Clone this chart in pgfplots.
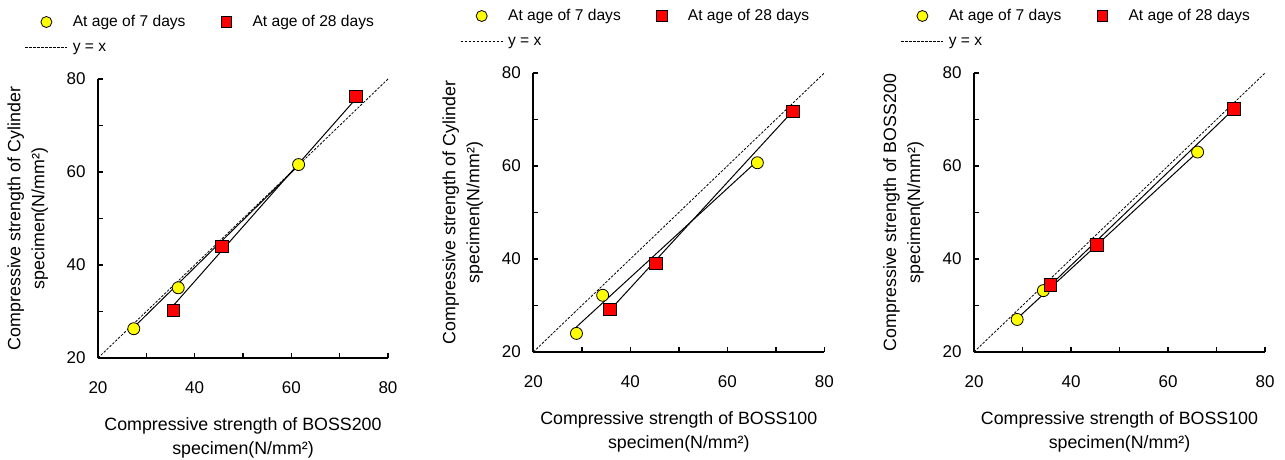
\documentclass[border=0pt]{standalone}
\usepackage{fontspec}
\setmainfont{Liberation Sans}
\usepackage{pgfplots}
\pgfplotsset{compat=1.18}

\definecolor{ptyellow}{RGB}{255,255,0}
\definecolor{ptred}{RGB}{255,0,0}

\pgfplotsset{
  panel/.style={
    scale only axis, width=291pt, height=279pt, anchor=south west,
    xmin=20, xmax=80, ymin=20, ymax=80, clip=false,
    axis x line*=bottom, axis y line*=left,
    axis line style={line width=2pt,-},
    xtick={20,40,60,80}, ytick={20,40,60,80},
    minor xtick={30,50,70}, minor ytick={30,50,70},
    tick align=inside, major tick length=5pt, minor tick length=5pt,
    every tick/.style={black,line width=1.5pt},
    minor tick style={black,line width=1.5pt},
    tick label style={font=\fontsize{17}{17}\selectfont},
    /pgf/number format/assume math mode=true,
    xticklabel style={yshift=-20pt},
    yticklabel style={xshift=-9pt},
    label style={font=\fontsize{17.8}{24}\selectfont, align=center},
    xlabel style={at={(axis description cs:0.5,-0.287)}, anchor=center},
    ylabel style={at={(axis description cs:-0.242,0.5)}, anchor=center},
    legend columns=2, legend cell align=left,
    legend style={at={(0,1)}, anchor=north west, xshift=-73pt, yshift=69pt,
      draw=none, fill=none, inner sep=0pt, outer sep=0pt,
      column sep=0pt, row sep=1pt, font=\fontsize{15.6}{16}\selectfont,
      nodes={inner sep=5pt, text height=11pt, text depth=3pt},
      /tikz/every even column/.append style={column sep=15pt}},
  },
  mk7/.style={only marks, mark=*, mark size=6pt,
    mark options={fill=ptyellow, draw=black, line width=0.8pt}},
  mk28/.style={only marks, mark=square*, mark size=6.2pt,
    mark options={fill=ptred, draw=black, line width=0.8pt}},
  trend/.style={black, line width=1pt, no marks},
  eqline/.style={black, line width=0.8pt, dash pattern=on 2.5pt off 1.5pt, no marks},
}

\newcommand{\panellegend}{%
  \addlegendimage{legend image code/.code={%
    \draw[black,line width=0.8pt,fill=ptyellow] (21pt,0pt) circle (5.5pt);
    \path[draw=none,fill=none] (0pt,0pt) -- (42pt,0pt);}}
  \addlegendentry{At age of 7 days}
  \addlegendimage{legend image code/.code={%
    \draw[black,line width=0.8pt,fill=ptred] (15.8pt,-5.2pt) rectangle (26.2pt,5.2pt);
    \path[draw=none,fill=none] (0pt,0pt) -- (42pt,0pt);}}
  \addlegendentry{At age of 28 days}
  \addlegendimage{legend image code/.code={%
    \draw[black,line width=0.8pt,dash pattern=on 2.5pt off 1.5pt] (0pt,0pt) -- (42pt,0pt);}}
  \addlegendentry{y = x}
}

\begin{document}
\begin{tikzpicture}
% panel 1: Cylinder vs BOSS200
\begin{axis}[panel, at={(98pt,101pt)}, width=290pt,
  xlabel={Compressive strength of BOSS200\\specimen(N/mm²)},
  ylabel={Compressive strength of Cylinder\\specimen(N/mm²)}]
\panellegend
\addplot[mk7, forget plot] coordinates {(27.4,26.3) (36.6,35.1) (61.5,61.6)};
\addplot[mk28, forget plot] coordinates {(35.6,30.3) (45.6,44.0) (73.4,76.2)};
\addplot[eqline, forget plot] coordinates {(20,20) (80,80)};
\addplot[trend, forget plot] coordinates {(27.4,26.6) (61.5,61.4)};
\addplot[trend, forget plot] coordinates {(35.6,31.3) (73.4,75.8)};
\end{axis}
% panel 2: Cylinder vs BOSS100
\begin{axis}[panel, at={(533.3pt,107pt)},
  xlabel={Compressive strength of BOSS100\\specimen(N/mm²)},
  ylabel={Compressive strength of Cylinder\\specimen(N/mm²)}]
\panellegend
\addplot[mk7, forget plot] coordinates {(28.9,24.0) (34.3,32.2) (66.2,60.7)};
\addplot[mk28, forget plot] coordinates {(35.8,29.2) (45.3,39.0) (73.5,71.8)};
\addplot[eqline, forget plot] coordinates {(20,20) (80,80)};
\addplot[trend, forget plot] coordinates {(28.9,25.4) (66.2,61.1)};
\addplot[trend, forget plot] coordinates {(35.8,29.0) (73.5,71.8)};
\end{axis}
% panel 3: BOSS200 vs BOSS100
\begin{axis}[panel, at={(974pt,107pt)},
  xlabel={Compressive strength of BOSS100\\specimen(N/mm²)},
  ylabel={Compressive strength of BOSS200\\specimen(N/mm²)}]
\panellegend
\addplot[mk7, forget plot] coordinates {(28.9,27.0) (34.3,33.2) (66.1,63.0)};
\addplot[mk28, forget plot] coordinates {(35.8,34.4) (45.3,43.0) (73.6,72.3)};
\addplot[eqline, forget plot] coordinates {(20,20) (80,80)};
\addplot[trend, forget plot] coordinates {(28.9,27.2) (66.1,63.0)};
\addplot[trend, forget plot] coordinates {(35.8,34.4) (73.6,72.3)};
\end{axis}
\pgfresetboundingbox
\useasboundingbox (0,0) rectangle (1285pt,459pt);
\end{tikzpicture}
\end{document}
